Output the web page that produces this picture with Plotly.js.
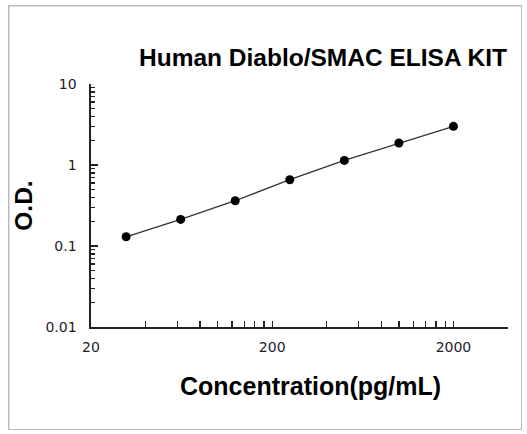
<!DOCTYPE html>
<html>
<head>
<meta charset="utf-8">
<script src="https://cdn.plot.ly/plotly-3.0.1.min.js"></script>
<style>
  html, body { margin: 0; padding: 0; background: #fff; }
  #wrap { position: relative; width: 527px; height: 434px; }
  #chart { position: absolute; left: 0; top: 0; width: 527px; height: 434px; }
  #frame { position: absolute; left: 8px; top: 5px; width: 512px; height: 423px;
           border: 1px solid #b8b8b8; box-shadow: inset 1px 1px 0 #e2e2e2; pointer-events: none; }
</style>
</head>
<body>
<div id="wrap">
  <div id="chart"></div>
  <div id="frame"></div>
</div>
<script>
// Data
const concentration = [31.25, 62.5, 125, 250, 500, 1000, 2000];
const od = [0.130, 0.213, 0.362, 0.658, 1.14, 1.87, 3.0];

// Tick labels
const xTickVals = [20, 200, 2000];
const xTickText = ["20", "200", "2000"];
const xMinorVals = [40, 60, 80, 100, 120, 140, 160, 180,
                    400, 600, 800, 1000, 1200, 1400, 1600, 1800, 4000];
const yTickVals = [0.01, 0.1, 1, 10];
const yTickText = ["0.01", "0.1", "1", "10"];

const titleText = "Human Diablo/SMAC ELISA KIT";
const xTitle = "Concentration(pg/mL)";
const yTitle = "O.D.";

const boldFont = { family: "Liberation Sans, Arial, sans-serif", size: 24.5, color: "#000" };
const tickFont = { family: "DejaVu Sans, Verdana, sans-serif", size: 14, color: "#1c1c2a" };

const trace = {
  x: concentration,
  y: od,
  mode: "lines+markers",
  type: "scatter",
  line: { color: "#333333", width: 1.3 },
  marker: { color: "#000000", size: 9 },
  hoverinfo: "x+y",
  showlegend: false
};

const layout = {
  width: 527,
  height: 434,
  margin: { l: 91, r: 19, t: 84, b: 107 },
  paper_bgcolor: "#ffffff",
  plot_bgcolor: "#ffffff",
  title: {
    text: "<b>" + titleText + "</b>",
    font: boldFont,
    x: 323 / 527, xanchor: "center", xref: "container",
    y: 1 - 57 / 434, yanchor: "middle", yref: "container"
  },
  annotations: [{
    text: "<b>" + xTitle + "</b>",
    font: { family: "Liberation Sans, Arial, sans-serif", size: 25, color: "#000" },
    xref: "paper", yref: "paper",
    x: (310 - 91) / 417, xanchor: "center",
    y: -(386 - 327) / 243, yanchor: "middle",
    showarrow: false
  }],
  xaxis: {
    type: "log",
    range: [Math.log10(20), Math.log10(4000)],
    tickmode: "array",
    tickvals: xTickVals,
    ticktext: xTickText,
    ticks: "inside",
    ticklen: 6,
    tickwidth: 1.3,
    tickcolor: "#222",
    minor: { tickmode: "array", tickvals: xMinorVals, ticks: "inside", ticklen: 6, tickwidth: 1.3, tickcolor: "#222", showgrid: false },
    showline: true,
    linecolor: "#222",
    linewidth: 1.6,
    mirror: false,
    showgrid: false,
    zeroline: false,
    tickfont: tickFont,
    ticklabelstandoff: 7,
    automargin: false
  },
  yaxis: {
    type: "log",
    range: [-2, 1],
    tickmode: "array",
    tickvals: yTickVals,
    ticktext: yTickText,
    ticks: "inside",
    ticklen: 7,
    tickwidth: 1.3,
    tickcolor: "#222",
    minor: { dtick: "D1", ticks: "inside", ticklen: 4, tickwidth: 1.3, tickcolor: "#222", showgrid: false },
    showline: true,
    linecolor: "#222",
    linewidth: 1.6,
    showgrid: false,
    zeroline: false,
    tickfont: tickFont,
    ticklabelstandoff: 10,
    title: { text: "<b>" + yTitle + "</b>", font: boldFont, standoff: 6 },
    automargin: false
  }
};

Plotly.newPlot("chart", [trace], layout, { displayModeBar: false, staticPlot: true });
</script>
</body>
</html>
